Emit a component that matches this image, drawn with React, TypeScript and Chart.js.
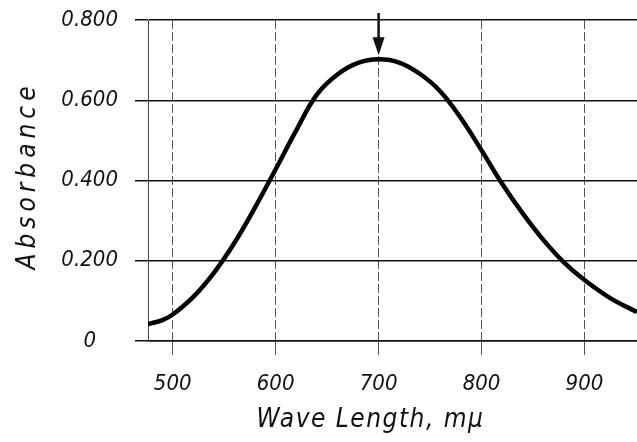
import { useEffect, useRef } from 'react';
import { Chart, registerables } from 'chart.js';

Chart.register(...registerables);

const wavelengths = [476, 490, 500, 520, 540, 560, 580, 600, 620, 640, 660, 680, 700, 720, 740, 760, 780, 800, 820, 840, 860, 880, 900, 925, 951];
const absorbance = [0.042, 0.052, 0.066, 0.110, 0.170, 0.245, 0.333, 0.428, 0.525, 0.614, 0.664, 0.693, 0.702, 0.694, 0.666, 0.622, 0.555, 0.475, 0.392, 0.318, 0.252, 0.196, 0.152, 0.107, 0.072];
const xTicks = [500, 600, 700, 800, 900];
const xTickLabels = ['500', '600', '700', '800', '900'];
const yTicks = [0, 0.2, 0.4, 0.6, 0.8];
const yTickLabels = ['0', '0.200', '0.400', '0.600', '0.800'];
const xMin = 476;
const xMax = 951;
const yMin = 0;
const yMax = 0.8;
const xTitle = 'Wave Length, mμ';
const yTitle = 'Absorbance';
const arrowAt = 700;

const FONT = "'DejaVu Sans Condensed', 'DejaVu Sans', sans-serif";

const arrowPlugin = {
  id: 'peakArrow',
  afterDatasetsDraw(chart: any) {
    const { ctx, chartArea, scales } = chart;
    const idx = wavelengths.indexOf(arrowAt);
    const x = scales.x.getPixelForValue(arrowAt);
    const yTip = scales.y.getPixelForValue(absorbance[idx]) - 4;
    const yTop = chartArea.top - 7;
    ctx.save();
    ctx.strokeStyle = '#111';
    ctx.fillStyle = '#111';
    ctx.lineWidth = 2.5;
    ctx.beginPath();
    ctx.moveTo(x, yTop);
    ctx.lineTo(x, yTip - 14);
    ctx.stroke();
    ctx.beginPath();
    ctx.moveTo(x - 6, yTip - 18);
    ctx.lineTo(x + 6, yTip - 18);
    ctx.lineTo(x, yTip);
    ctx.closePath();
    ctx.fill();
    ctx.restore();
  },
};

const titlePlugin = {
  id: 'axisTitles',
  afterDraw(chart: any) {
    const { ctx, chartArea } = chart;
    ctx.save();
    ctx.fillStyle = '#111';
    ctx.textAlign = 'center';
    ctx.textBaseline = 'middle';
    ctx.font = `italic 26px ${FONT}`;
    (ctx as any).letterSpacing = '5px';
    ctx.save();
    ctx.translate(28, (chartArea.top + chartArea.bottom) / 2 - 5);
    ctx.rotate(-Math.PI / 2);
    ctx.fillText(yTitle, 0, 0);
    ctx.restore();
    (ctx as any).letterSpacing = '1.5px';
    ctx.fillText(xTitle, (chartArea.left + chartArea.right) / 2 - 22, 420);
    ctx.restore();
  },
};

export default function App() {
  const ref = useRef<HTMLCanvasElement | null>(null);
  useEffect(() => {
    document.body.style.margin = '0';
    const canvas = ref.current;
    if (!canvas) return;
    const chart = new Chart(canvas, {
      type: 'line',
      data: {
        datasets: [
          {
            data: wavelengths.map((w, i) => ({ x: w, y: absorbance[i] })),
            borderColor: '#000',
            borderWidth: 4.5,
            pointRadius: 0,
            tension: 0.4,
            fill: false,
          },
        ],
      },
      options: {
        animation: false,
        responsive: false,
        devicePixelRatio: 1,
        layout: { padding: { top: 20, right: 0, left: 0, bottom: 0 } },
        plugins: { legend: { display: false }, tooltip: { enabled: false } },
        scales: {
          x: {
            type: 'linear',
            min: xMin,
            max: xMax,
            afterBuildTicks: (s: any) => {
              s.ticks = xTicks.map((v) => ({ value: v }));
            },
            afterFit: (s: any) => {
              s.height = 101;
              s.paddingLeft = 0;
              s.paddingRight = 0;
            },
            ticks: {
              callback: (v: any) => xTickLabels[xTicks.indexOf(Number(v))] ?? '',
              font: { family: FONT, size: 22, style: 'italic' },
              color: '#111',
              padding: 16,
              maxRotation: 0,
            },
            grid: {
              color: '#555',
              lineWidth: 1,
              tickLength: 14,
              tickColor: '#555',
            },
            border: { display: true, color: '#111', width: 1.5, dash: [9, 3] },
          },
          y: {
            type: 'linear',
            min: yMin,
            max: yMax,
            afterBuildTicks: (s: any) => {
              s.ticks = yTicks.map((v) => ({ value: v }));
            },
            afterFit: (s: any) => {
              s.width = 148;
              s.paddingTop = 0;
              s.paddingBottom = 0;
            },
            ticks: {
              callback: (v: any) => {
                const i = yTicks.findIndex((t) => Math.abs(t - Number(v)) < 1e-9);
                return i >= 0 ? yTickLabels[i] : '';
              },
              font: { family: FONT, size: 22, style: 'italic' },
              color: '#111',
              padding: 17,
              crossAlign: 'center',
            },
            grid: {
              color: '#111',
              lineWidth: 1.5,
              tickLength: 13,
              tickColor: '#111',
            },
            border: { display: true, color: '#444', width: 1 },
          },
        },
      },
      plugins: [arrowPlugin, titlePlugin],
    } as any);
    return () => chart.destroy();
  }, []);
  return (
    <div style={{ position: 'fixed', left: 0, top: 0, width: 637, height: 442 }}>
      <canvas ref={ref} width={637} height={442} style={{ display: 'block' }} />
    </div>
  );
}
